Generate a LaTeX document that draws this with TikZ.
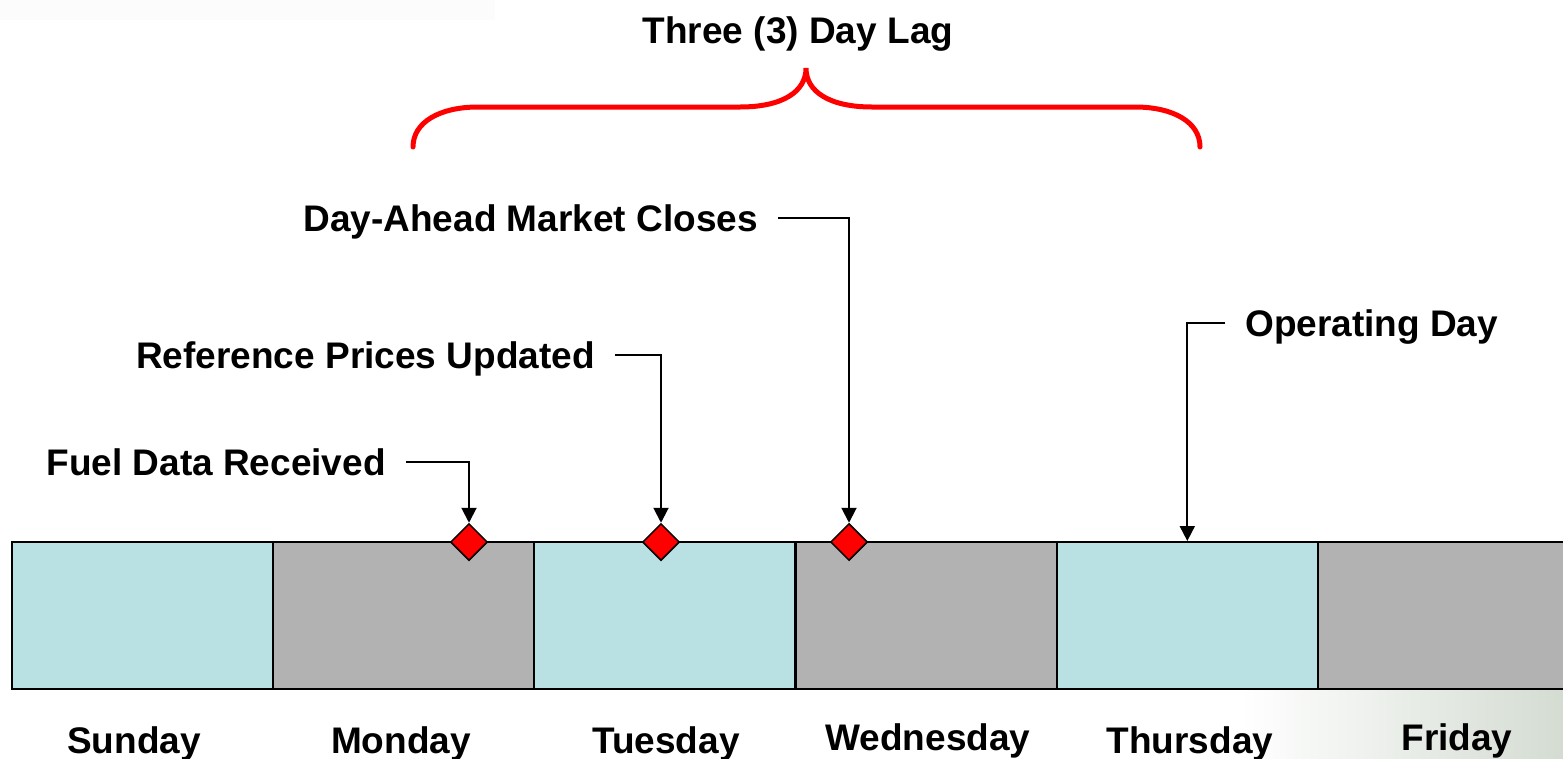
\documentclass[tikz,border=0pt]{standalone}
\usepackage{fontspec}
\setmainfont{Liberation Sans}
\usetikzlibrary{shapes.geometric, arrows.meta}

\definecolor{daycyan}{RGB}{185,224,227}
\definecolor{daygray}{RGB}{178,178,178}
\definecolor{lagred}{RGB}{255,0,0}
\definecolor{cornertint}{RGB}{212,220,210}

\begin{document}
\begin{tikzpicture}[x=1pt, y=-1pt, >={Triangle[width=15pt,length=15pt]},
    tag/.style={font=\fontsize{37}{44}\selectfont\bfseries, text height=26.5pt, text depth=0pt, inner ysep=0pt},
    callout/.style={tag, inner xsep=20pt},
    daybox/.style={draw, line width=2pt, minimum width=261pt, minimum height=147pt, inner sep=0pt},
    marker/.style={diamond, draw, fill=red, line width=1.5pt, minimum width=37pt, minimum height=37pt, inner sep=0pt},
    link/.style={->, line width=2pt}]
    \useasboundingbox (0,0) rectangle (1563,758);
    % faint backdrop bits
    \fill[black!1] (0,0) rectangle (495,20);
    \shade[left color=white, right color=cornertint] (1240,690) rectangle (1563,758);

    % the brace
    \draw[lagred, line width=5pt, line cap=round]
        (413,147) .. controls (413,122) and (440,107) .. (478,107) -- (740,107)
        .. controls (782,107) and (806,92) .. (806,68)
        .. controls (806,92) and (830,107) .. (872,107) -- (1135,107)
        .. controls (1173,107) and (1200,122) .. (1200,147);
    \node[tag] (lag) at (798,30) {Three (3) Day Lag};

    % days
    \foreach \name/\shade [count=\i from 0] in {sun/daycyan, mon/daygray, tue/daycyan, wed/daygray, thu/daycyan, fri/daygray}
        \node[daybox, fill=\shade] (\name) at (142.5+261.2*\i, 615.5) {};
    \node[tag] (sunlbl) at (134,740) {Sunday};
    \node[tag] (monlbl) at (401,740) {Monday};
    \node[tag] (tuelbl) at (666,740) {Tuesday};
    \node[tag] (wedlbl) at (928,737) {Wednesday};
    \node[tag] (thulbl) at (1190,740) {Thursday};
    \node[tag] (frilbl) at (1457,737) {Friday};

    % events
    \node[marker] (fuelpt) at (469,542) {};
    \node[marker] (refpt) at (661,542) {};
    \node[marker] (dampt) at (849,542) {};

    \node[callout, anchor=east] (fuel) at (406,462) {Fuel Data Received};
    \node[callout, anchor=east] (refp) at (615,355) {Reference Prices Updated};
    \node[callout, anchor=east] (dam) at (778,218) {Day-Ahead Market Closes};
    \node[callout, anchor=west] (opday) at (1225,323) {Operating Day};

    \draw[link] (fuel.east) -| (fuelpt.north);
    \draw[link] (refp.east) -| (refpt.north);
    \draw[link] (dam.east) -| (dampt.north);
    \draw[link] (opday.west) -| (thu.north);
\end{tikzpicture}
\end{document}
